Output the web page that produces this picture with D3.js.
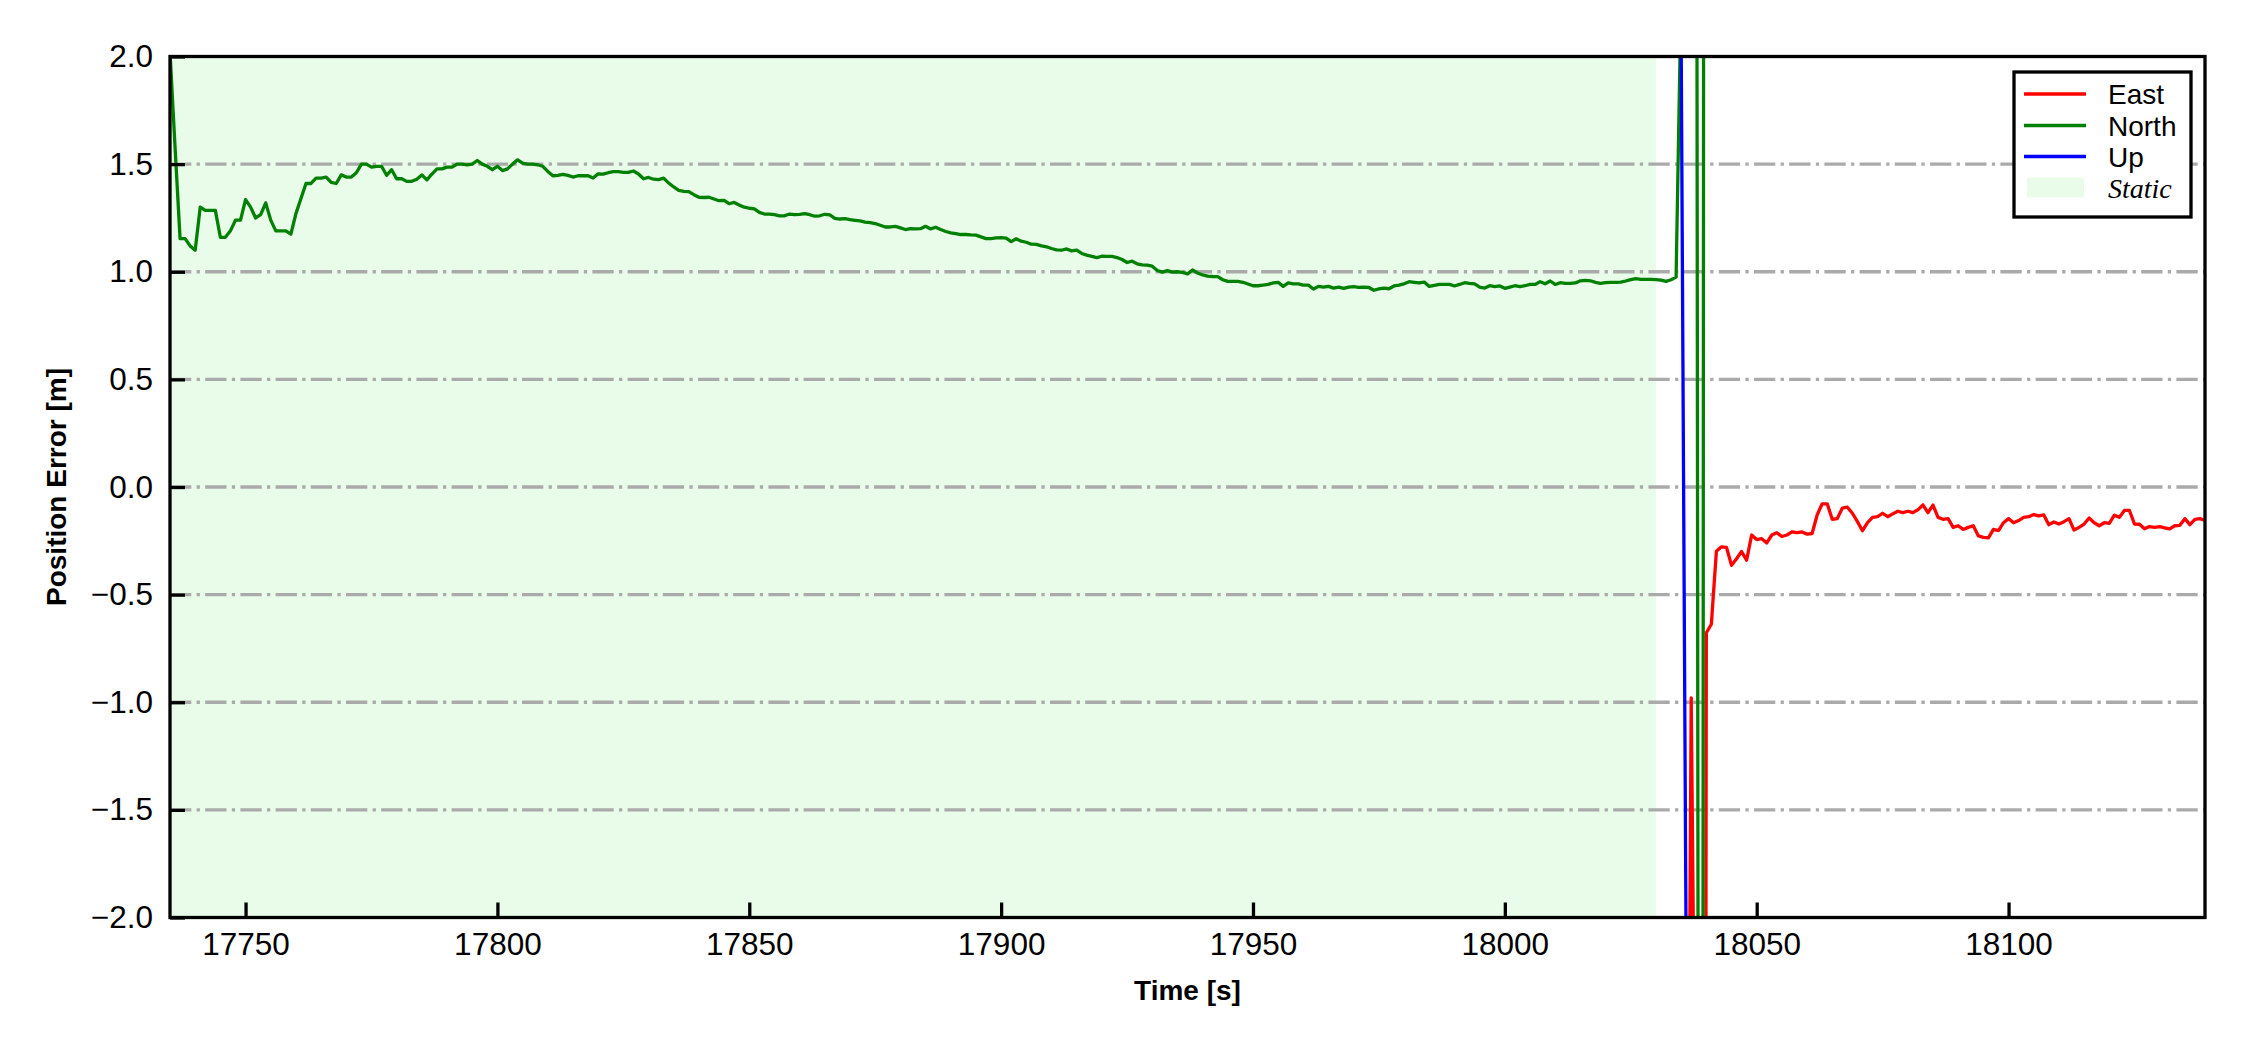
<!DOCTYPE html>
<html><head><meta charset="utf-8">
<script src="https://cdn.jsdelivr.net/npm/d3@7"></script>
<style>body{margin:0;background:#fff} svg{display:block}</style>
</head><body><svg id="c" width="2250" height="1050"></svg>
<script>
// ---------- data ----------
const xTicks = [17750, 17800, 17850, 17900, 17950, 18000, 18050, 18100];
const yTicks = [-2, -1.5, -1, -0.5, 0, 0.5, 1, 1.5, 2];
const xDomain = [17735, 18139];
const yDomain = [-2, 2];
const staticSpan = [17735, 18030];
const legendLabels = ["East", "North", "Up", "Static"];

// 1 Hz samples
const northStart = 17735;
const northValues = [
 2.02,1.58,1.154,1.154,1.12,1.10,1.30,1.285,1.285,1.285,
 1.16,1.16,1.19,1.24,1.24,1.335,1.30,1.25,1.265,1.32,
 1.24,1.19,1.19,1.19,1.175,1.27,1.34,1.41,1.41,1.435,
 1.435,1.44,1.415,1.41,1.45,1.44,1.44,1.46,1.50,1.50,
 1.486,1.49,1.49,1.448,1.474,1.432,1.432,1.42,1.42,1.43,
 1.45,1.427,1.454,1.478,1.478,1.486,1.486,1.50,1.50,1.497,
 1.50,1.517,1.50,1.49,1.474,1.49,1.47,1.478,1.50,1.52,
 1.505,1.50,1.50,1.497,1.49,1.466,1.446,1.448,1.452,1.448,
 1.44,1.446,1.446,1.446,1.435,1.455,1.454,1.46,1.465,1.465,
 1.462,1.462,1.468,1.454,1.432,1.438,1.43,1.428,1.435,1.412,
 1.394,1.378,1.373,1.372,1.358,1.346,1.345,1.346,1.338,1.33,
 1.332,1.316,1.322,1.31,1.30,1.295,1.292,1.276,1.268,1.268,
 1.265,1.26,1.26,1.268,1.265,1.267,1.27,1.265,1.258,1.26,
 1.267,1.264,1.248,1.245,1.247,1.242,1.239,1.236,1.231,1.228,
 1.224,1.216,1.208,1.208,1.211,1.204,1.196,1.2,1.199,1.2,
 1.211,1.199,1.207,1.196,1.187,1.181,1.177,1.173,1.173,1.171,
 1.17,1.162,1.154,1.154,1.157,1.159,1.156,1.14,1.153,1.142,
 1.137,1.128,1.127,1.12,1.116,1.108,1.102,1.1,1.106,1.097,
 1.1,1.085,1.077,1.071,1.066,1.072,1.071,1.071,1.066,1.057,
 1.043,1.049,1.037,1.032,1.031,1.026,1.006,0.998,1.005,0.998,
 1.0,0.997,0.99,1.008,0.994,0.985,0.98,0.978,0.977,0.963,
 0.955,0.955,0.955,0.951,0.943,0.935,0.935,0.938,0.941,0.948,
 0.951,0.932,0.948,0.944,0.944,0.938,0.938,0.92,0.932,0.929,
 0.932,0.924,0.929,0.923,0.929,0.931,0.927,0.929,0.927,0.914,
 0.92,0.924,0.921,0.934,0.938,0.944,0.954,0.951,0.948,0.952,
 0.932,0.937,0.941,0.941,0.941,0.934,0.941,0.949,0.946,0.944,
 0.929,0.924,0.935,0.931,0.934,0.923,0.929,0.935,0.931,0.935,
 0.941,0.941,0.954,0.944,0.957,0.941,0.949,0.946,0.946,0.948,
 0.958,0.96,0.958,0.951,0.946,0.949,0.951,0.951,0.952,0.957,
 0.963,0.968,0.965,0.965,0.965,0.963,0.961,0.955,0.963,0.975,
 2.3,8,9,5,-15,22.5
];

const eastStart = 18035;
const eastValues = [
 -6,-4.9,-0.98,-3.5,-20,
 -0.677,-0.6375,-0.298,-0.278,-0.28,-0.364,-0.333,-0.30,-0.34,-0.223,
 -0.244,-0.24,-0.26,-0.223,-0.2125,-0.23,-0.223,-0.208,-0.2125,-0.209,
 -0.219,-0.216,-0.13,-0.078,-0.078,-0.15,-0.147,-0.098,-0.094,-0.122,
 -0.161,-0.203,-0.166,-0.141,-0.138,-0.122,-0.138,-0.125,-0.1125,-0.119,
 -0.1125,-0.119,-0.106,-0.083,-0.119,-0.084,-0.141,-0.15,-0.147,-0.1875,
 -0.18,-0.197,-0.1875,-0.18,-0.227,-0.234,-0.236,-0.197,-0.203,-0.166,
 -0.147,-0.166,-0.156,-0.141,-0.138,-0.128,-0.134,-0.13,-0.175,-0.1625,
 -0.172,-0.161,-0.147,-0.2,-0.1875,-0.172,-0.144,-0.166,-0.18,-0.166,
 -0.169,-0.131,-0.141,-0.109,-0.109,-0.172,-0.173,-0.194,-0.184,-0.1875,
 -0.184,-0.19,-0.195,-0.18,-0.178,-0.147,-0.175,-0.15,-0.147,-0.156
];

const upStart = 18034;
const upValues = [3.0, 2.1, -2.2, -4.5];

const seriesColors = { East: "#ff0000", North: "#008000", Up: "#0000ff" };

// ---------- layout ----------
const W = 2250, H = 1050;
const plot = { left: 170, right: 2205, top: 56.5, bottom: 917.5 };
const FONT = "'Liberation Sans', Arial, Helvetica, sans-serif";

const svg = d3.select("#c");
const x = d3.scaleLinear().domain(xDomain).range([plot.left, plot.right]);
const y = d3.scaleLinear().domain(yDomain).range([plot.bottom, plot.top]);

svg.append("defs").append("clipPath").attr("id", "clip")
  .append("rect").attr("x", plot.left).attr("y", plot.top)
  .attr("width", plot.right - plot.left).attr("height", plot.bottom - plot.top);

// static shading
svg.append("rect")
  .attr("x", x(staticSpan[0])).attr("y", plot.top)
  .attr("width", x(staticSpan[1]) - x(staticSpan[0]))
  .attr("height", plot.bottom - plot.top)
  .attr("fill", "#90ee90").attr("fill-opacity", 0.2);

// grid (y only)
svg.append("g").selectAll("line").data(yTicks.filter(d => d > -2 && d < 2)).join("line")
  .attr("x1", plot.left).attr("x2", plot.right)
  .attr("y1", d => y(d)).attr("y2", d => y(d))
  .attr("stroke", "#aaaaaa").attr("stroke-width", 3.3)
  .attr("stroke-dasharray", "21.3,5.3,3.3,5.3");

// series
const toPts = (start, vals) => vals.map((v, i) => [start + i, v]);
const line = d3.line().x(d => x(d[0])).y(d => y(d[1]));
const series = [
  { name: "East", pts: toPts(eastStart, eastValues) },
  { name: "North", pts: toPts(northStart, northValues) },
  { name: "Up", pts: toPts(upStart, upValues) }
];
const lg = svg.append("g").attr("clip-path", "url(#clip)");
series.forEach(s => {
  lg.append("path").datum(s.pts).attr("d", line)
    .attr("fill", "none").attr("stroke", seriesColors[s.name])
    .attr("stroke-width", 3.3).attr("stroke-linejoin", "round");
});

// axes
const yAxis = d3.axisLeft(y).tickValues(yTicks).tickSizeInner(-15).tickSizeOuter(0)
  .tickPadding(17).tickFormat(d3.format(".1f"));
const xAxis = d3.axisBottom(x).tickValues(xTicks).tickSizeInner(-15).tickSizeOuter(0)
  .tickPadding(15).tickFormat(d3.format("d"));

const gy = svg.append("g").attr("transform", `translate(${plot.left},0)`).call(yAxis);
const gx = svg.append("g").attr("transform", `translate(0,${plot.bottom})`).call(xAxis);
[gy, gx].forEach(g => {
  g.select(".domain").remove();
  g.selectAll(".tick line").attr("stroke", "#000").attr("stroke-width", 3.3);
  g.selectAll(".tick text").attr("fill", "#000").style("font-family", FONT).style("font-size", "31.5px");
});

// frame
svg.append("rect").attr("x", plot.left).attr("y", plot.top)
  .attr("width", plot.right - plot.left).attr("height", plot.bottom - plot.top)
  .attr("fill", "none").attr("stroke", "#000").attr("stroke-width", 3.3);

// axis labels
svg.append("text").attr("x", (plot.left + plot.right) / 2).attr("y", 1000)
  .attr("text-anchor", "middle").style("font-family", FONT).style("font-weight", "bold")
  .style("font-size", "28px").text("Time [s]");
svg.append("text").attr("transform", `translate(66,${(plot.top + plot.bottom) / 2}) rotate(-90)`)
  .attr("text-anchor", "middle").style("font-family", FONT).style("font-weight", "bold")
  .style("font-size", "28px").text("Position Error [m]");

// legend
const leg = svg.append("g");
leg.append("rect").attr("x", 2014).attr("y", 72).attr("width", 177).attr("height", 145)
  .attr("fill", "#fff").attr("stroke", "#000").attr("stroke-width", 3.3);
const rowY = [94, 125.5, 156.5, 187.5];
legendLabels.forEach((name, i) => {
  if (name === "Static") {
    leg.append("rect").attr("x", 2027).attr("y", rowY[i] - 10).attr("width", 57).attr("height", 20)
      .attr("fill", "#90ee90").attr("fill-opacity", 0.2);
  } else {
    leg.append("line").attr("x1", 2024).attr("x2", 2086).attr("y1", rowY[i]).attr("y2", rowY[i])
      .attr("stroke", seriesColors[name]).attr("stroke-width", 3.3);
  }
  leg.append("text").attr("x", 2108).attr("y", rowY[i]).attr("dy", "0.36em")
    .style("font-family", name === "Static" ? "'Liberation Serif', 'Times New Roman', serif" : FONT)
    .style("font-style", name === "Static" ? "italic" : "normal")
    .style("font-size", "28px").text(name);
});
</script>
</body></html>
